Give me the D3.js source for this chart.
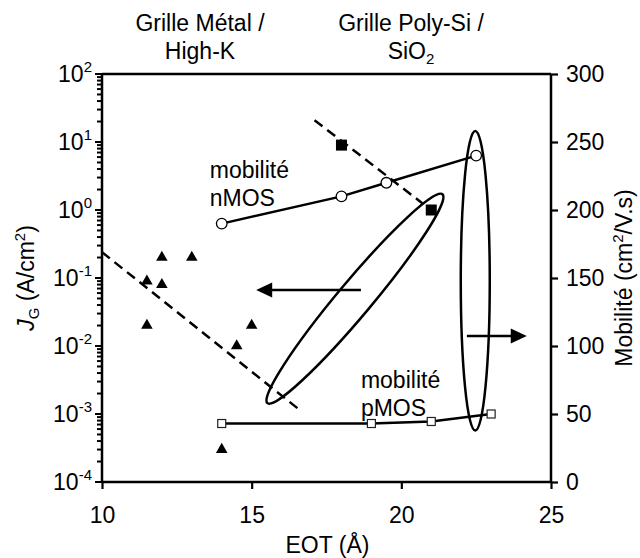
<!DOCTYPE html>
<html><head><meta charset="utf-8">
<script src="https://cdn.jsdelivr.net/npm/d3@7"></script>
<style>
html,body{margin:0;padding:0;background:#fff;}
svg text{font-family:"Liberation Sans",Arial,Helvetica,sans-serif;fill:#000;}
</style></head>
<body><svg id="c" width="640" height="558"></svg>
<script>
// ---- data ----
const xTicks = [10, 15, 20, 25];
const yLeftMajor = [-4, -3, -2, -1, 0, 1, 2];        // exponents of 10
const yRightTicks = [0, 50, 100, 150, 200, 250, 300];

// High-K / metal gate leakage (triangles)
const highKX = [12, 13, 11.5, 12, 11.5, 15, 14.5, 14];
const highKJ = [0.2, 0.2, 0.09, 0.08, 0.02, 0.02, 0.01, 0.0003];
// Poly-Si / SiO2 leakage (filled squares)
const polyX = [18, 21];
const polyJ = [9, 1];
// trend lines (dashed)
const polyTrendX = [17.1, 20.7];
const polyTrendJ = [20.9, 1.26];
const highKTrendX = [10, 16.6];
const highKTrendJ = [0.24, 0.00115];
// mobility
const nmosX = [14, 18, 19.5, 22.5];
const nmosMu = [190, 210, 220, 240];
const pmosX = [14, 19, 21, 23];
const pmosMu = [43, 43, 44.5, 50];

// ---- layout ----
const svg = d3.select("#c");
const L = 102, R = 551, T = 74, B = 482;
const x = d3.scaleLinear([10, 25], [L, R]);
const yL = d3.scaleLog([1e-4, 1e2], [B, T]);
const yR = d3.scaleLinear([0, 300], [B, T]);
const FS = 23;

// top titles
function title(cx, lines) {
  const t = svg.append("text").attr("text-anchor", "middle").attr("font-size", FS);
  lines.forEach((ln, i) => {
    const tt = t.append("tspan").attr("x", cx).attr("y", 31 + i * 28);
    ln.forEach(seg => {
      const s = tt.append("tspan").text(seg.t);
      if (seg.sub) s.attr("font-size", 15).attr("dy", 5);
    });
  });
}
title(200, [[{t: "Grille Métal /"}], [{t: "High-K"}]]);
title(411, [[{t: "Grille Poly-Si /"}], [{t: "SiO"}, {t: "2", sub: true}]]);

// axes frame
const ax = svg.append("g").attr("stroke", "#000").attr("fill", "none");
ax.append("line").attr("x1", L).attr("x2", R).attr("y1", T).attr("y2", T).attr("stroke-width", 2.5);
ax.append("line").attr("x1", L).attr("x2", R).attr("y1", B).attr("y2", B).attr("stroke-width", 2.5);
ax.append("line").attr("x1", L).attr("x2", L).attr("y1", T).attr("y2", B).attr("stroke-width", 2.5);
ax.append("line").attr("x1", R).attr("x2", R).attr("y1", T).attr("y2", B).attr("stroke-width", 2.5);

// bottom axis
const gx = svg.append("g").attr("transform", `translate(0,${B})`)
  .call(d3.axisBottom(x).tickValues(xTicks).tickSize(7).tickPadding(18).tickFormat(d3.format("d")));
gx.select(".domain").remove();
gx.selectAll(".tick line").attr("stroke-width", 2.2);
gx.selectAll("text").attr("font-size", FS).attr("font-family", "Liberation Sans, Arial, sans-serif");

// right axis
const gr = svg.append("g").attr("transform", `translate(${R},0)`)
  .call(d3.axisRight(yR).tickValues(yRightTicks).tickSize(7).tickPadding(8));
gr.select(".domain").remove();
gr.selectAll(".tick line").attr("stroke-width", 2.2);
gr.selectAll("text").attr("font-size", FS).attr("font-family", "Liberation Sans, Arial, sans-serif");

// left log axis
const allTicks = [];
yLeftMajor.forEach(e => {
  allTicks.push({v: Math.pow(10, e), major: true});
  if (e < 2) for (let m = 2; m <= 9; m++) allTicks.push({v: m * Math.pow(10, e), major: false});
});
const gl = svg.append("g");
gl.selectAll("line").data(allTicks).join("line")
  .attr("x1", d => L - (d.major ? 7 : 5)).attr("x2", L)
  .attr("y1", d => yL(d.v)).attr("y2", d => yL(d.v))
  .attr("stroke", "#000").attr("stroke-width", 2);
yLeftMajor.forEach(e => {
  const t = gl.append("text").attr("text-anchor", "end").attr("font-size", FS)
    .attr("x", 92).attr("y", yL(Math.pow(10, e)) + 8);
  t.append("tspan").text("10");
  t.append("tspan").text(String(e)).attr("font-size", 15).attr("dy", -10);
});

// axis titles
svg.append("text").attr("x", (L + R) / 2 + 1).attr("y", 553).attr("text-anchor", "middle")
  .attr("font-size", FS).text("EOT (Å)");
const jt = svg.append("text").attr("text-anchor", "middle").attr("font-size", FS)
  .attr("transform", `translate(34,${(T + B) / 2}) rotate(-90)`);
jt.append("tspan").text("J").attr("font-style", "italic");
jt.append("tspan").text("G").attr("font-size", 15).attr("dy", 5);
jt.append("tspan").text(" (A/cm").attr("dy", -5);
jt.append("tspan").text("2").attr("font-size", 15).attr("dy", -9);
jt.append("tspan").text(")").attr("dy", 9);
const mt = svg.append("text").attr("text-anchor", "middle").attr("font-size", FS)
  .attr("transform", `translate(632,${(T + B) / 2}) rotate(-90)`);
mt.append("tspan").text("Mobilité (cm");
mt.append("tspan").text("2").attr("font-size", 15).attr("dy", -9);
mt.append("tspan").text("/V.s)").attr("dy", 9);

// dashed trend lines
const lineL = d3.line().x(d => x(d[0])).y(d => yL(d[1]));
svg.append("path").attr("d", lineL(d3.zip(polyTrendX, polyTrendJ)))
  .attr("fill", "none").attr("stroke", "#000").attr("stroke-width", 2.5).attr("stroke-dasharray", "10,6");
svg.append("path").attr("d", lineL(d3.zip(highKTrendX, highKTrendJ)))
  .attr("fill", "none").attr("stroke", "#000").attr("stroke-width", 2.5).attr("stroke-dasharray", "10,6");

// ellipses (annotations, defined by their tips in data units)
function ellipse(p1, p2, b) {
  const cx = (p1[0] + p2[0]) / 2, cy = (p1[1] + p2[1]) / 2;
  const a = Math.hypot(p2[0] - p1[0], p2[1] - p1[1]) / 2 - 1.2;
  const ang = Math.atan2(p2[1] - p1[1], p2[0] - p1[0]) * 180 / Math.PI;
  svg.append("ellipse").attr("cx", 0).attr("cy", 0).attr("rx", a).attr("ry", b)
    .attr("transform", `translate(${cx},${cy}) rotate(${ang})`)
    .attr("fill", "none").attr("stroke", "#000").attr("stroke-width", 2.5);
}
ellipse([x(15.5), yL(1.4e-3)], [x(21.4), yL(1.76)], 17);
ellipse([x(22.47), yR(37)], [x(22.47), yR(259)], 14.5);

// arrows
function arrow(x1, x2, yy) {
  const dir = Math.sign(x2 - x1);
  svg.append("line").attr("x1", x1).attr("x2", x2 - dir * 12).attr("y1", yy).attr("y2", yy)
    .attr("stroke", "#000").attr("stroke-width", 2.5);
  svg.append("path").attr("d", `M${x2},${yy}L${x2 - dir * 16},${yy - 7.5}L${x2 - dir * 16},${yy + 7.5}Z`)
    .attr("fill", "#000");
}
arrow(x(18.65), x(15.15), yL(0.0667));
arrow(x(22.19), x(24.19), yR(107.4));

// mobility lines
const lineR = d3.line().x(d => x(d[0])).y(d => yR(d[1]));
svg.append("path").attr("d", lineR(d3.zip(nmosX, nmosMu))).attr("fill", "none").attr("stroke", "#000").attr("stroke-width", 2.5);
svg.append("path").attr("d", lineR(d3.zip(pmosX, pmosMu))).attr("fill", "none").attr("stroke", "#000").attr("stroke-width", 2.5);

// markers
const tri = d3.symbol(d3.symbolTriangle, 58);
svg.selectAll(".tri").data(d3.zip(highKX, highKJ)).join("path")
  .attr("d", tri).attr("transform", d => `translate(${x(d[0])},${yL(d[1])})`).attr("fill", "#000");
svg.selectAll(".sq").data(d3.zip(polyX, polyJ)).join("rect")
  .attr("x", d => x(d[0]) - 5.5).attr("y", d => yL(d[1]) - 5.5).attr("width", 11).attr("height", 11).attr("fill", "#000");
svg.selectAll(".ci").data(d3.zip(nmosX, nmosMu)).join("circle")
  .attr("cx", d => x(d[0])).attr("cy", d => yR(d[1])).attr("r", 5.3)
  .attr("fill", "#fff").attr("stroke", "#000").attr("stroke-width", 1.3);
svg.selectAll(".os").data(d3.zip(pmosX, pmosMu)).join("rect")
  .attr("x", d => x(d[0]) - 4).attr("y", d => yR(d[1]) - 4).attr("width", 8).attr("height", 8)
  .attr("fill", "#fff").attr("stroke", "#222").attr("stroke-width", 1.2);

// series labels
function label(px, py, lines) {
  const t = svg.append("text").attr("font-size", FS);
  lines.forEach((s, i) => t.append("tspan").attr("x", px).attr("y", py + i * 28).text(s));
}
label(x(13.6), 178, ["mobilité", "nMOS"]);
label(x(18.65), 388, ["mobilité", "pMOS"]);
</script></body></html>
